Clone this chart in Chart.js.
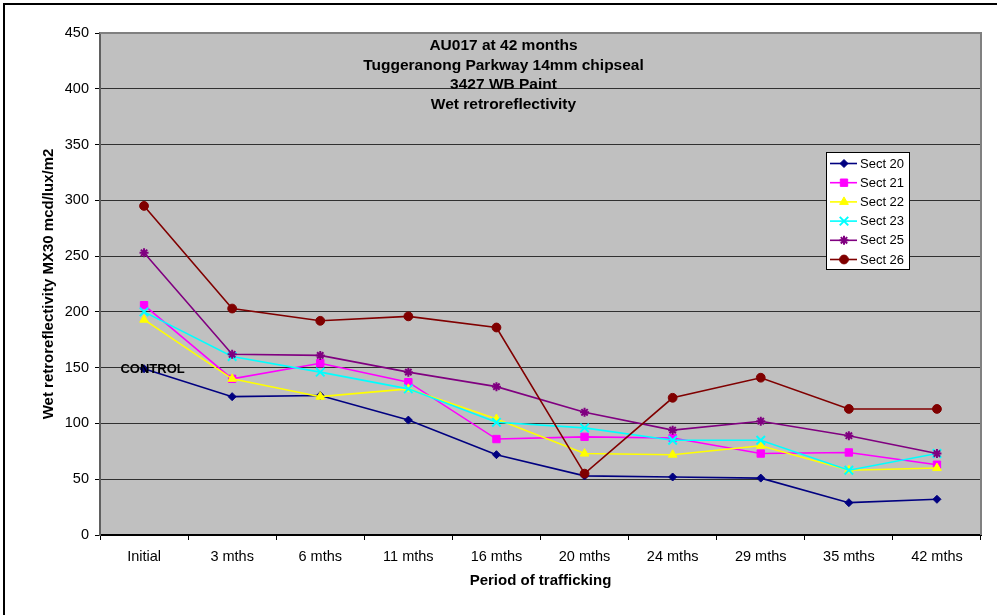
<!DOCTYPE html>
<html>
<head>
<meta charset="utf-8">
<script src="https://cdn.jsdelivr.net/npm/chart.js@4"></script>
<style>
  html, body { margin: 0; padding: 0; background: #ffffff; }
  #wrap { width: 997px; height: 615px; position: relative; }
</style>
</head>
<body>
<div id="wrap"><canvas id="c" width="997" height="615"></canvas></div>
<script>
// Survey periods (x categories)
const categories = ['Initial', '3 mths', '6 mths', '11 mths', '16 mths', '20 mths', '24 mths', '29 mths', '35 mths', '42 mths'];

// Wet retroreflectivity per section, mcd/lux/m2
const sect20 = [149, 124, 125, 103, 72, 53, 52, 51, 29, 32];
const sect21 = [206, 140, 154, 137, 86, 88, 87, 73, 74, 63];
const sect22 = [193, 140, 124, 131, 104, 73, 72, 80, 58, 60];
const sect23 = [200, 160, 146, 131, 101, 96, 85, 85, 58, 73];
const sect25 = [253, 162, 161, 146, 133, 110, 94, 102, 89, 73];
const sect26 = [295, 203, 192, 196, 186, 55, 123, 141, 113, 113];

const seriesNames = ['Sect 20', 'Sect 21', 'Sect 22', 'Sect 23', 'Sect 25', 'Sect 26'];

// Y axis range and step
const yMin = 0;
const yMax = 450;
const yStep = 50;

const titleLines = ['AU017 at 42 months', 'Tuggeranong Parkway 14mm chipseal', '3427 WB Paint', 'Wet retroreflectivity'];
const yAxisTitle = 'Wet retroreflectivity MX30 mcd/lux/m2';
const xAxisTitle = 'Period of trafficking';
const controlLabel = 'CONTROL';
const controlIndex = 0;
const controlValue = sect20[0];

const FONT = '"Liberation Sans", Arial, Helvetica, sans-serif';

const styles = [
  { color: '#000080', pointStyle: 'rectRot', radius: 4, borderWidth: 1 },
  { color: '#FF00FF', pointStyle: 'rect', radius: 5.2, borderWidth: 1 },
  { color: '#FFFF00', pointStyle: 'triangle', radius: 5, borderWidth: 1 },
  { color: '#00FFFF', pointStyle: 'crossRot', radius: 6, borderWidth: 2 },
  { color: '#800080', pointStyle: 'star', radius: 4.5, borderWidth: 2 },
  { color: '#800000', pointStyle: 'circle', radius: 4.4, borderWidth: 1 }
];
const seriesValues = [sect20, sect21, sect22, sect23, sect25, sect26];

const datasets = seriesValues.map((vals, i) => ({
  label: seriesNames[i],
  data: vals,
  borderColor: styles[i].color,
  backgroundColor: styles[i].color,
  borderWidth: 1.6,
  pointStyle: styles[i].pointStyle,
  pointRadius: styles[i].radius,
  pointBorderWidth: styles[i].borderWidth,
  pointBorderColor: styles[i].color,
  pointBackgroundColor: styles[i].color,
  tension: 0,
  fill: false,
  // later sections are painted over earlier ones
  order: seriesValues.length - i
}));

// Page frame, grey plot area and plot border
const plotFrame = {
  id: 'plotFrame',
  beforeDraw(chart) {
    const { ctx, chartArea: a } = chart;
    ctx.save();
    ctx.fillStyle = '#ffffff';
    ctx.fillRect(0, 0, chart.width, chart.height);
    ctx.fillStyle = '#C0C0C0';
    ctx.fillRect(a.left, a.top, a.right - a.left, a.bottom - a.top);
    // outer frame
    ctx.strokeStyle = '#000000';
    ctx.lineWidth = 2;
    ctx.beginPath();
    ctx.moveTo(4, chart.height + 2);
    ctx.lineTo(4, 4);
    ctx.lineTo(chart.width + 2, 4);
    ctx.stroke();
    ctx.restore();
  },
  beforeDatasetsDraw(chart) {
    const { ctx, chartArea: a } = chart;
    ctx.save();
    ctx.strokeStyle = '#808080';
    ctx.lineWidth = 2;
    ctx.beginPath();
    ctx.moveTo(a.left, a.top);
    ctx.lineTo(a.right, a.top);
    ctx.lineTo(a.right, a.bottom);
    ctx.stroke();
    ctx.restore();
  }
};

// Titles, CONTROL note, axis titles and legend box
const annotations = {
  id: 'annotations',
  afterDraw(chart) {
    const { ctx, chartArea: a, scales } = chart;
    ctx.save();
    ctx.fillStyle = '#000000';
    ctx.textAlign = 'center';
    ctx.textBaseline = 'middle';
    ctx.font = 'bold 15.5px ' + FONT;
    titleLines.forEach((t, i) => ctx.fillText(t, 503.5, 46 + i * 19.6));

    // axis titles
    ctx.font = 'bold 15px ' + FONT;
    ctx.fillText(xAxisTitle, (a.left + a.right) / 2, 581);
    ctx.save();
    ctx.translate(49, (a.top + a.bottom) / 2);
    ctx.rotate(-Math.PI / 2);
    ctx.fillText(yAxisTitle, 0, 0);
    ctx.restore();

    // CONTROL note beside first Sect 20 point
    ctx.font = 'bold 13px ' + FONT;
    ctx.fillText(controlLabel, scales.x.getPixelForValue(controlIndex) + 8.5, scales.y.getPixelForValue(controlValue) + 1);

    // legend
    const lx = 826.5, ly = 152.5, lw = 83, lh = 117;
    ctx.fillStyle = '#ffffff';
    ctx.fillRect(lx, ly, lw, lh);
    ctx.strokeStyle = '#000000';
    ctx.lineWidth = 1;
    ctx.strokeRect(lx, ly, lw, lh);
    ctx.font = '13px ' + FONT;
    ctx.textAlign = 'left';
    chart.data.datasets.forEach((ds, i) => {
      const y = 163.5 + i * 19.2;
      ctx.strokeStyle = ds.borderColor;
      ctx.lineWidth = 1.6;
      ctx.beginPath();
      ctx.moveTo(830, y);
      ctx.lineTo(857, y);
      ctx.stroke();
      ctx.fillStyle = ds.pointBackgroundColor;
      ctx.strokeStyle = ds.pointBorderColor;
      ctx.lineWidth = ds.pointBorderWidth;
      Chart.helpers.drawPoint(ctx, {
        pointStyle: ds.pointStyle,
        radius: ds.pointRadius,
        borderWidth: ds.pointBorderWidth,
        rotation: 0
      }, 844, y);
      ctx.fillStyle = '#000000';
      ctx.fillText(ds.label, 860, y + 0.5);
    });
    ctx.restore();
  }
};

new Chart(document.getElementById('c'), {
  type: 'line',
  data: { labels: categories, datasets },
  options: {
    responsive: false,
    animation: false,
    devicePixelRatio: 1,
    layout: { padding: { top: 33, right: 16, left: 0, bottom: 0 } },
    plugins: {
      legend: { display: false },
      title: { display: false },
      tooltip: { enabled: false }
    },
    scales: {
      x: {
        type: 'category',
        offset: true,
        afterFit(scale) { scale.height = 80; },
        grid: {
          offset: true,
          drawOnChartArea: false,
          drawTicks: true,
          tickLength: 5,
          tickColor: '#000000',
          lineWidth: 1
        },
        border: { display: true, color: '#000000', width: 2 },
        ticks: {
          autoSkip: false,
          maxRotation: 0,
          minRotation: 0,
          color: '#000000',
          padding: 8,
          font: { family: FONT, size: 14.5 }
        }
      },
      y: {
        min: yMin,
        max: yMax,
        afterFit(scale) { scale.width = 100; },
        grid: {
          color: (c) => (c.tick && c.tick.value === yMax ? 'rgba(0,0,0,0)' : '#303030'),
          lineWidth: 1,
          drawTicks: true,
          tickLength: 5,
          tickColor: '#000000'
        },
        border: { display: true, color: '#606060', width: 2 },
        ticks: {
          stepSize: yStep,
          color: '#000000',
          padding: 6,
          font: { family: FONT, size: 14.5 }
        }
      }
    }
  },
  plugins: [plotFrame, annotations]
});
</script>
</body>
</html>
